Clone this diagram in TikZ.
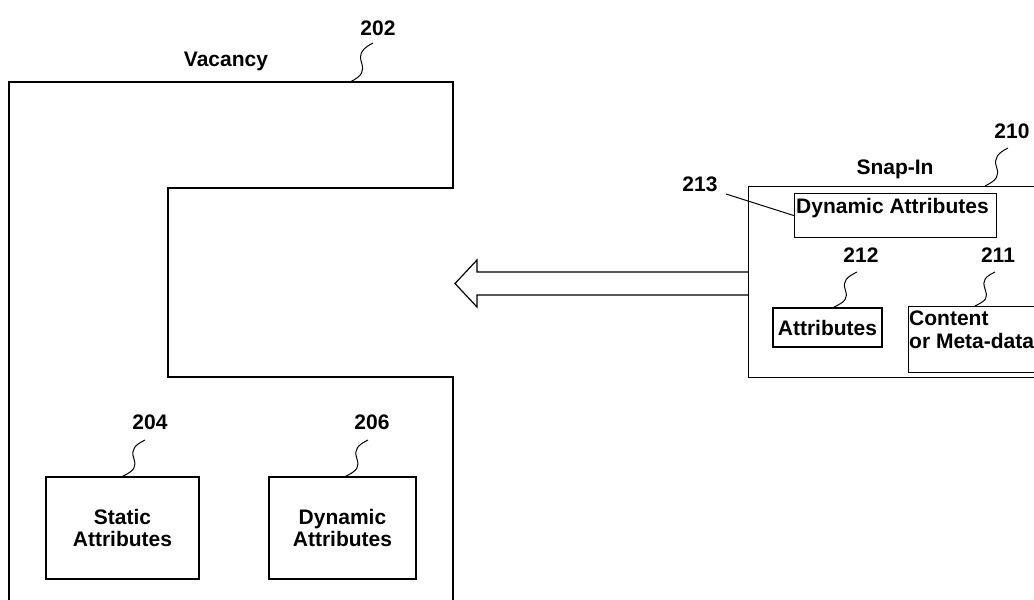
\documentclass[tikz,border=0pt]{standalone}
\usepackage{fontspec}
\setmainfont{Liberation Sans}
\usetikzlibrary{calc}
\newcommand{\squiggle}[2]{
  \draw[leader] (#1) .. controls +(12,-6) and +(3,9) .. ($ (#1)!0.5!(#2) $) .. controls +(-3,-9) and +(-10,5) .. (#2);
}
\begin{document}
\begin{tikzpicture}[x=1pt,y=-1pt,
    box/.style={draw,line width=1.2pt,inner sep=0pt},
    txt/.style={font=\bfseries\fontsize{21}{22.5}\selectfont,inner sep=0pt,align=center},
    leader/.style={line width=1pt},
    outline/.style={line width=1.2pt},
  ]
  \useasboundingbox (0,0) rectangle (1034,600);

  % vacancy
  \draw[outline] (9,606) -- (9,82) -- (453,82) -- (453,188) -- (168,188) -- (168,377) -- (453,377) -- (453,606);
  \coordinate (vac-top) at (350,82);
  \node[txt] (vac-title) at (226,61) {Vacancy};
  \node[txt] (vac-num) at (378,28) {202};
  \squiggle{vac-top}{$(vac-num)+(-5,15)$}

  \node[box,txt,minimum width=153pt,minimum height=102pt] (static) at (122.5,528) {Static\\Attributes};
  \node[txt] (static-num) at (150,422) {204};
  \squiggle{static.north}{$(static-num)+(-5,18)$}

  \node[box,txt,minimum width=147pt,minimum height=102pt] (dynamic) at (342.5,528) {Dynamic\\Attributes};
  \node[txt] (dynamic-num) at (372,422) {206};
  \squiggle{[xshift=3pt]dynamic.north}{$(dynamic-num)+(-4,18)$}

  % snap-in
  \node[box,minimum width=297pt,minimum height=191pt,anchor=north west] (snapin) at (748,186) {};
  \node[txt] (snapin-title) at (895,169) {Snap-In};
  \node[txt] (snapin-num) at (1012,131) {210};
  \squiggle{985,186}{$(snapin-num)+(-4,17)$}

  \node[box,minimum width=202pt,minimum height=44pt,anchor=north west] (snap-dyn) at (794,193) {};
  \node[txt,anchor=north west] (snap-dyn-text) at (796,198) {Dynamic Attributes};
  \node[txt] (snap-dyn-num) at (700,184) {213};
  \draw[leader] ($(snap-dyn-num)+(26,10)$) -- (snap-dyn.west);

  \node[box,txt,minimum width=109pt,minimum height=39pt] (attr) at (827.5,327.5) {Attributes};
  \node[txt] (attr-num) at (861,255) {212};
  \squiggle{[xshift=6pt]attr.north}{$(attr-num)+(-4,17)$}

  \node[box,minimum width=132pt,minimum height=66pt,anchor=north west] (content) at (908,306) {};
  \node[txt,align=left,anchor=north west] (content-text) at (909,311) {Content\\or Meta-data};
  \node[txt] (content-num) at (998,255) {211};
  \squiggle{975,306}{$(content-num)+(-3,17)$}

  % block arrow from snap-in to vacancy
  \coordinate (shaft-top) at (snapin.west |- 477,272);
  \coordinate (shaft-bot) at (snapin.west |- 477,295);
  \draw[outline] (shaft-top) -- (477,272) -- (477,260) -- (455,283.5) -- (477,307) -- (477,295) -- (shaft-bot);
\end{tikzpicture}
\end{document}
